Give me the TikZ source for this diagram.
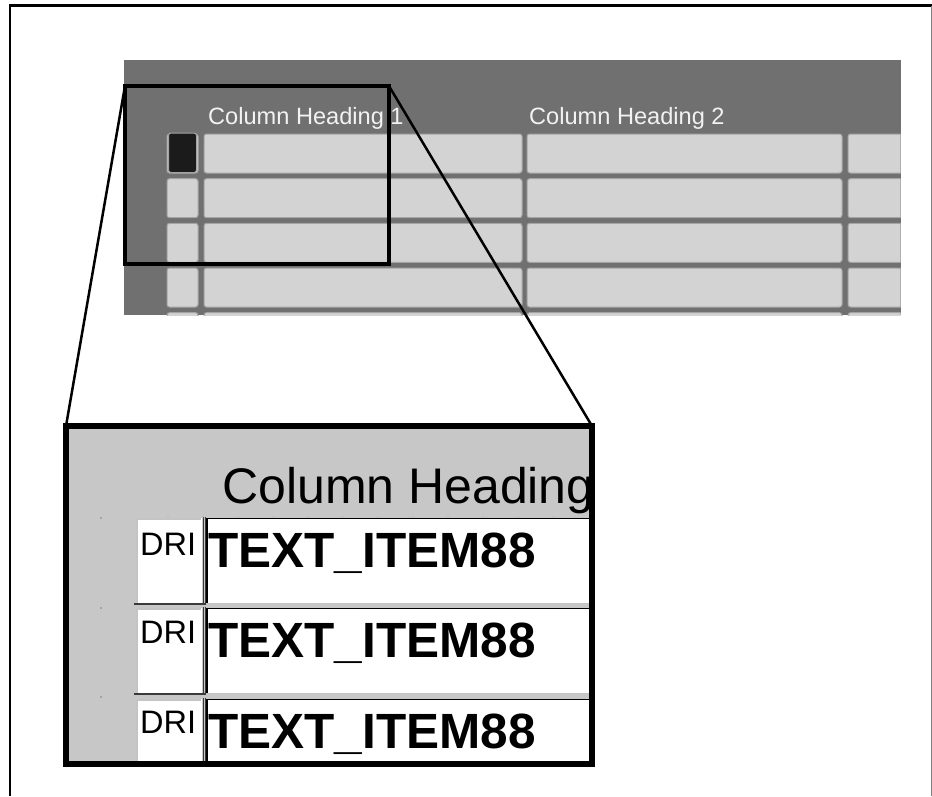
\documentclass[tikz,border=0pt]{standalone}
\usepackage{fontspec}
\setmainfont{Liberation Sans}
\definecolor{darkbg}{HTML}{707070}
\definecolor{cellgray}{HTML}{D3D3D3}
\definecolor{celledge}{HTML}{A4A4A4}
\definecolor{selblack}{HTML}{1B1B1B}
\definecolor{headwhite}{HTML}{F2F2F2}
\definecolor{panelgray}{HTML}{C7C7C7}
\definecolor{driedge}{HTML}{C4C4C4}
\definecolor{sepdark}{HTML}{3A3A3A}
\begin{document}
\begin{tikzpicture}[x=1pt,y=-1pt,
  cell/.style={fill=cellgray, draw=celledge, line width=1pt, rounded corners=2.5pt},
  headtext/.style={anchor=base west, inner sep=0pt, text=headwhite, font=\fontsize{23.6}{26}\selectfont},
  bigtext/.style={anchor=base west, inner sep=0pt, font=\fontsize{49.5}{52}\selectfont\bfseries},
  dritext/.style={anchor=base west, inner sep=0pt, font=\fontsize{32.5}{34}\selectfont},
  colhead/.style={anchor=base west, inner sep=0pt, font=\fontsize{50}{54}\selectfont},
  zoomline/.style={line width=2.5pt, line cap=round}]
\useasboundingbox (0,0) rectangle (932,796);
% outer frame (open at the bottom)
\draw[line width=2.8pt] (10,796) -- (10,5.5) -- (933,5.5);
\draw[gray, line width=1pt] (931,5.5) -- (931,796);

% ---------- top screenshot ----------
\fill[darkbg] (124,59.5) rectangle (900.5,315);
\begin{scope}
  \clip (124,59.5) rectangle (900.5,315);
  \foreach \t in {134,178.7,223.3,268,312.7}{
    \draw[cell] (167,\t) rectangle (198,\t+39);
    \draw[cell] (204,\t) rectangle (522,\t+39);
    \draw[cell] (527,\t) rectangle (842,\t+39);
    \draw[cell] (848,\t) rectangle (910,\t+39);
  }
  \draw[fill=selblack, draw=celledge, line width=1pt, rounded corners=2.5pt] (168.5,133) rectangle (196.5,172.5);
\end{scope}
\node[headtext] (h1) at (208,124) {Column Heading 1};
\node[headtext] (h2) at (529,124) {Column Heading 2};

% zoom rectangle
\draw[line width=3.5pt] (125,86) rectangle (389,264);
\coordinate (zTL) at (125,86);
\coordinate (zTR) at (389,86);

% ---------- magnified panel ----------
\fill[panelgray] (66,426) rectangle (592,764);
\begin{scope}
  \clip (66,426) rectangle (592,764);
  \node[colhead] (ch) at (222,503) {Column Heading};
  \foreach \d in {518,608,697}{ \fill[gray] (101,\d) circle (0.9); }
  \foreach \t/\tb/\db [count=\i] in {518/567/555, 608/657/643, 699/748/733}{
    % DRI cell
    \fill[white] (136,\t) rectangle (202,\t+85);
    \draw[driedge, line width=1.5pt] (137,\t+85) -- (137,\t+1) -- (201,\t+1);
    \draw[sepdark, line width=1.3pt] (134,\t+86) -- (205,\t+86);
    % DRI text (clipped at the cell edge)
    \begin{scope}
      \clip (136,\t) rectangle (202.5,\t+85);
      \node[dritext] (dri\i) at (140,\db) {DRI};
    \end{scope}
    \draw[sepdark, line width=0.8pt] (203,\t-1) -- (203,\t+87);
    \draw[sepdark, line width=0.8pt] (205.5,\t-1) -- (205.5,\t+87);
    % text cell
    \fill[white] (206,\t) rectangle (600,\t+85);
    \draw[black, line width=1.2pt] (207,\t+85) -- (207,\t+0.6) -- (600,\t+0.6);
    \draw[driedge, line width=1pt] (207,\t+85) -- (600,\t+85);
    \node[bigtext] (ti\i) at (208,\tb) {TEXT\_ITEM88};
  }
  \foreach \x in {168,203,238,273,308,343,378,413,448,483,518,553}{
    \fill[gray!60] (\x,517) circle (0.6);
  }
\end{scope}
\draw[line width=6pt] (66,426) rectangle (592,764);
\coordinate (pTL) at (66,426);
\coordinate (pTR) at (592,426);

% connectors
\draw[zoomline] (zTL) -- (pTL);
\draw[zoomline] (zTR) -- (pTR);
\end{tikzpicture}
\end{document}
